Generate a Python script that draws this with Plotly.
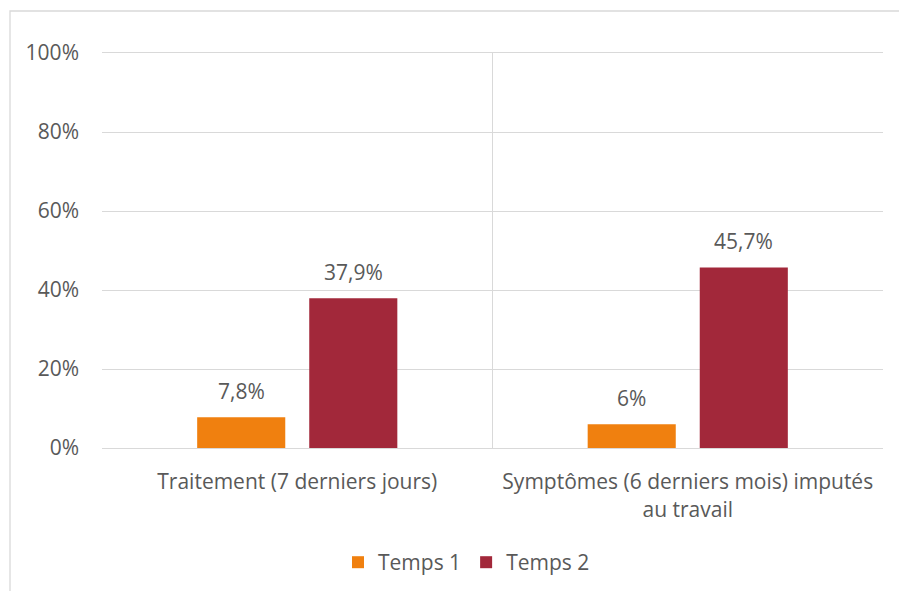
import plotly.graph_objects as go

categories = ["Traitement (7 derniers jours)", "Symptômes (6 derniers mois) imputés<br>au travail"]
series_names = ["Temps 1", "Temps 2"]
temps1 = [7.8, 6]
temps2 = [37.9, 45.7]
colors = ["#F0800F", "#A2283A"]
y_ticks = [0, 20, 40, 60, 80, 100]

FONT = "Open Sans"
GRAY = "#595959"
FS = 21

W, H = 899, 591
ML, MR, MT, MB = 102, 16, 53, 143
BARGAP, BARGROUPGAP = 0.426, 0.214

def fmt(v):
    return ("%g" % v).replace(".", ",") + "%"

fig = go.Figure()
for name, vals, col in zip(series_names, [temps1, temps2], colors):
    fig.add_trace(go.Bar(
        name=name, x=categories, y=vals,
        marker=dict(color=col, line=dict(width=0)),
        cliponaxis=False,
    ))

# data labels placed above each bar
cat_px = (W - ML - MR) / len(categories)
slot = (1 - BARGAP) / len(series_names) * cat_px
annotations = []
for si, vals in enumerate([temps1, temps2]):
    shift = (si - (len(series_names) - 1) / 2) * slot
    for c, v in zip(categories, vals):
        annotations.append(dict(
            x=c, y=v, xref="x", yref="y", text=fmt(v), showarrow=False,
            xshift=shift, yshift=26, yanchor="middle",
            font=dict(family=FONT, size=FS, color=GRAY),
        ))

plot_h = H - MT - MB
fig.update_layout(
    width=W, height=H,
    margin=dict(l=ML, r=MR, t=MT, b=MB, autoexpand=False),
    paper_bgcolor="white", plot_bgcolor="white",
    barmode="group", bargap=BARGAP, bargroupgap=BARGROUPGAP,
    font=dict(family=FONT, size=FS, color=GRAY),
    showlegend=True,
    legend=dict(orientation="h", x=(338 - ML) / (W - ML - MR), xanchor="left",
                y=-0.29, yanchor="middle",
                font=dict(family=FONT, size=FS, color=GRAY), traceorder="normal"),
    xaxis=dict(tickson="boundaries", showgrid=True, gridcolor="#D9D9D9", gridwidth=1.3,
               showline=True, linecolor="#D9D9D9", mirror=True, ticks="",
               ticklabelstandoff=15, automargin=False,
               tickfont=dict(family=FONT, size=FS, color=GRAY)),
    yaxis=dict(range=[0, 100], tickvals=y_ticks, ticktext=[f"{t}%" for t in y_ticks],
               showgrid=True, gridcolor="#D9D9D9", gridwidth=1.3, zeroline=False,
               showline=False, ticks="", ticklabelstandoff=22, automargin=False,
               tickfont=dict(family=FONT, size=FS, color=GRAY)),
    annotations=annotations,
    shapes=[dict(type="rect", xref="paper", yref="paper",
                 x0=-0.1178, x1=1.5, y0=-1.0, y1=(H - MB - 11) / plot_h,
                 line=dict(color="#D9D9D9", width=1.3), layer="below")],
)

fig.write_html("out.html", config={"displayModeBar": False},
               post_script="document.body.style.margin='0';")
